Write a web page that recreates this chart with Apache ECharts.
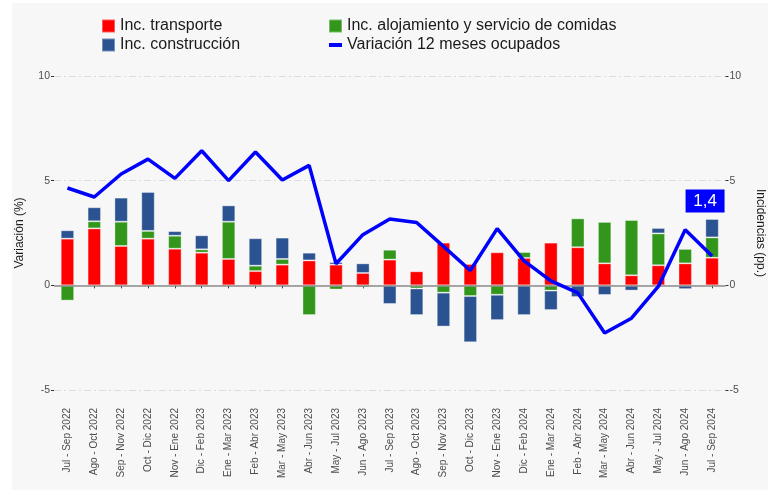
<!DOCTYPE html>
<html>
<head>
<meta charset="utf-8">
<script src="https://cdn.jsdelivr.net/npm/echarts@6/dist/echarts.min.js"></script>
<style>
  html, body { margin: 0; padding: 0; background: #fff; }
  #main { width: 775px; height: 490px; }
</style>
</head>
<body>
<div id="main"></div>
<script>
// periodos móviles de 3 meses
var periodos = [
  "Jul - Sep 2022", "Ago - Oct 2022", "Sep - Nov 2022", "Oct - Dic 2022", "Nov - Ene 2022",
  "Dic - Feb 2023", "Ene - Mar 2023", "Feb - Abr 2023", "Mar - May 2023", "Abr - Jun 2023",
  "May - Jul 2023", "Jun - Ago 2023", "Jul - Sep 2023", "Ago - Oct 2023", "Sep - Nov 2023",
  "Oct - Dic 2023", "Nov - Ene 2023", "Dic - Feb 2024", "Ene - Mar 2024", "Feb - Abr 2024",
  "Mar - May 2024", "Abr - Jun 2024", "May - Jul 2024", "Jun - Ago 2024", "Jul - Sep 2024"
];
// incidencias (pp.)
var transporte = [2.23, 2.72, 1.88, 2.23, 1.75, 1.56, 1.26, 0.68, 0.99, 1.19, 0.99, 0.59, 1.23,
  0.67, 2.04, 1.02, 1.58, 1.31, 2.04, 1.82, 1.05, 0.48, 0.96, 1.05, 1.32];
var alojamiento = [-0.73, 0.34, 1.16, 0.37, 0.62, 0.16, 1.78, 0.26, 0.27, -1.42, -0.2, -0.1, 0.47,
  -0.15, -0.35, -0.51, -0.45, 0.28, -0.25, 1.38, 1.98, 2.64, 1.52, 0.69, 0.97];
var construccion = [0.40, 0.67, 1.15, 1.86, 0.22, 0.67, 0.78, 1.31, 1.02, 0.37, 0.12, 0.46, -0.89,
  -1.27, -1.62, -2.21, -1.21, -1.42, -0.93, -0.56, -0.46, -0.25, 0.26, -0.18, 0.88];
// variación 12 meses ocupados (%)
var ocupados = [4.65, 4.22, 5.32, 6.03, 5.11, 6.43, 5.0, 6.37, 5.03, 5.73, 1.03, 2.42, 3.17,
  3.0, 1.86, 0.71, 2.71, 1.17, 0.21, -0.36, -2.28, -1.57, -0.05, 2.66, 1.4];
var yTicks = [-5, 0, 5, 10];

var colRojo = "#ff0000", colVerde = "#31961a", colAzul = "#2b5291", colLinea = "#0000ff";
var txtGris = "#4d4d4d";
var fuente = "Liberation Sans";

var chart = echarts.init(document.getElementById("main"));

var ultimo = ocupados.length - 1;

var ejeY = {
  type: "value",
  min: yTicks[0],
  max: yTicks[yTicks.length - 1],
  interval: 5,
  axisLine: { show: false },
  axisTick: { show: true, length: 3, lineStyle: { color: "#333" } },
  axisLabel: { margin: 4, fontSize: 10.5, color: txtGris, fontFamily: fuente },
  nameLocation: "middle",
  nameTextStyle: { fontSize: 12, color: "#1a1a1a", fontFamily: fuente }
};

var barStyle = function (c) {
  return { color: c, borderColor: "rgba(255,255,255,0.35)", borderWidth: 1 };
};

var legendaTxt = { fontSize: 16, color: "#1a1a1a", fontFamily: fuente };

var option = {
  animation: false,
  backgroundColor: "#fff",
  graphic: [{
    type: "rect",
    z: -10,
    shape: { x: 12, y: 3, width: 756, height: 487 },
    style: { fill: "#f7f7f7" }
  }],
  legend: [
    {
      left: 96, top: 13, orient: "vertical",
      itemWidth: 13, itemHeight: 13, itemGap: 3,
      textStyle: legendaTxt,
      data: [
        { name: "Inc. transporte", icon: "rect" },
        { name: "Inc. construcción", icon: "rect" }
      ]
    },
    {
      left: 323, top: 13, orient: "vertical",
      itemWidth: 13, itemHeight: 13, itemGap: 3,
      textStyle: legendaTxt,
      data: [
        { name: "Inc. alojamiento y servicio de comidas", icon: "rect" },
        { name: "Variación 12 meses ocupados", icon: "path://M0,0 L13,0 L13,4 L0,4 Z" }
      ]
    }
  ],
  grid: { left: 54, right: 49.5, top: 76, bottom: 100 },
  xAxis: {
    type: "category",
    data: periodos,
    offset: 14,
    axisLine: { show: false },
    axisTick: { show: true, length: 3, alignWithLabel: true, lineStyle: { color: "#333" } },
    axisLabel: { rotate: 90, margin: 4, fontSize: 10, color: txtGris, fontFamily: fuente, interval: 0 }
  },
  yAxis: [
    Object.assign({}, ejeY, {
      name: "Variación (%)",
      nameGap: 28,
      splitLine: { show: true, lineStyle: { color: "#dcdcdc", width: 1, type: [7, 3, 2, 3] } }
    }),
    Object.assign({}, ejeY, {
      position: "right",
      name: "Incidencias (pp.)",
      nameGap: 29,
      nameRotate: -90,
      splitLine: { show: false }
    })
  ],
  series: [
    {
      name: "Inc. transporte",
      type: "bar",
      stack: "inc",
      yAxisIndex: 1,
      barWidth: "50%",
      itemStyle: barStyle(colRojo),
      data: transporte
    },
    {
      name: "Inc. alojamiento y servicio de comidas",
      type: "bar",
      stack: "inc",
      yAxisIndex: 1,
      itemStyle: barStyle(colVerde),
      data: alojamiento
    },
    {
      name: "Inc. construcción",
      type: "bar",
      stack: "inc",
      yAxisIndex: 1,
      itemStyle: barStyle(colAzul),
      data: construccion,
      markLine: {
        silent: true,
        symbol: "none",
        label: { show: false },
        lineStyle: { color: "#8c8c8c", width: 1.5, type: "solid" },
        data: [{ yAxis: 0 }]
      }
    },
    {
      name: "Variación 12 meses ocupados",
      type: "line",
      yAxisIndex: 0,
      showSymbol: false,
      symbol: "none",
      z: 5,
      lineStyle: { color: colLinea, width: 3.5 },
      itemStyle: { color: colLinea },
      data: ocupados,
      markPoint: {
        silent: true,
        symbol: "rect",
        symbolSize: [39, 23],
        symbolOffset: [-7, -55],
        itemStyle: { color: colLinea },
        label: {
          show: true,
          position: "inside",
          color: "#fff",
          fontSize: 17,
          fontFamily: fuente,
          formatter: String(ocupados[ultimo]).replace(".", ",")
        },
        data: [{ coord: [periodos[ultimo], ocupados[ultimo]] }]
      }
    }
  ]
};

chart.setOption(option);
</script>
</body>
</html>
